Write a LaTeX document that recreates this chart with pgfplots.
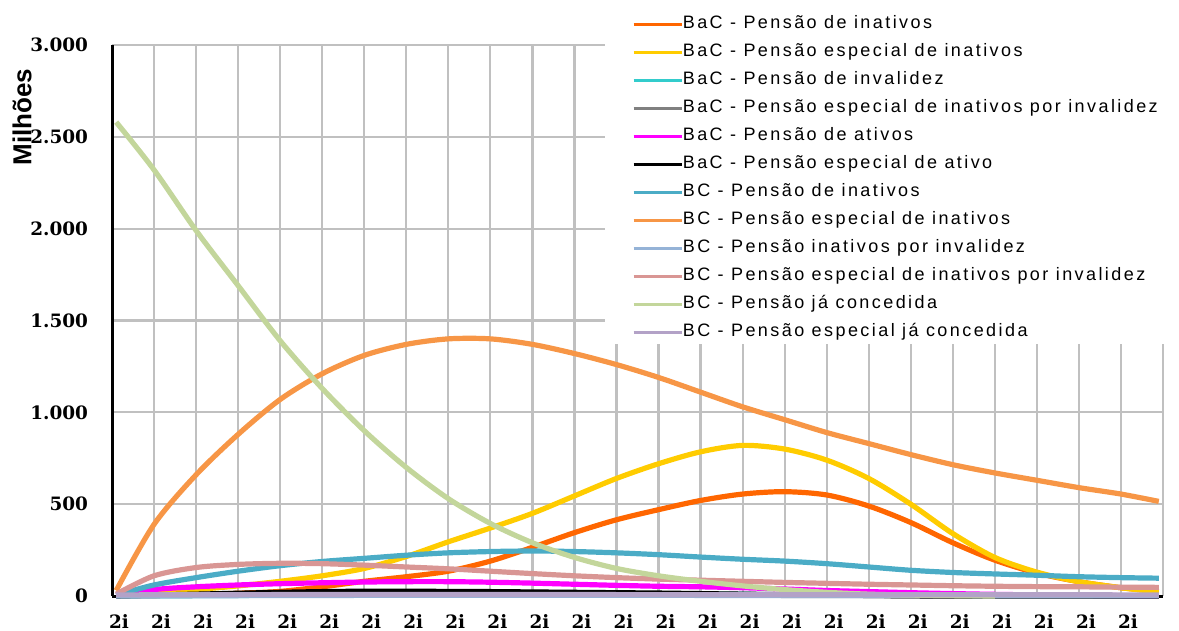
\documentclass[border=0pt]{standalone}
\usepackage{fontspec}
\setmainfont{Liberation Sans}
\newfontfamily\serifb{DejaVu Serif}
\newfontfamily\legfont[LetterSpace=13.5]{Liberation Sans}
\usepackage{pgfplots}
\pgfplotsset{compat=1.18}
\definecolor{cbacinat}{RGB}{255,102,0}
\definecolor{cbacesp}{RGB}{255,204,0}
\definecolor{cbacinv}{RGB}{51,204,204}
\definecolor{cbacespinv}{RGB}{128,128,128}
\definecolor{cbacat}{RGB}{255,0,255}
\definecolor{cbacespat}{RGB}{0,0,0}
\definecolor{cbcinat}{RGB}{75,172,198}
\definecolor{cbcesp}{RGB}{247,150,70}
\definecolor{cbcinv}{RGB}{149,179,215}
\definecolor{cbcespinv}{RGB}{217,150,148}
\definecolor{cbcconc}{RGB}{195,214,155}
\definecolor{cbcespconc}{RGB}{179,162,199}
\definecolor{cgrid}{RGB}{192,192,192}

\begin{document}
\begin{tikzpicture}
\begin{axis}[
    scale only axis,
    width=525.5bp, height=275.5bp,
    xmin=0, xmax=25, ymin=0, ymax=3000,
    axis lines=left,
    axis line style={-, line width=1.5bp, black},
    xtick={0,...,25},
    xticklabels={2i,2i,2i,2i,2i,2i,2i,2i,2i,2i,2i,2i,2i,2i,2i,2i,2i,2i,2i,2i,2i,2i,2i,2i,2i,},
    ytick={0,500,...,3000},
    major tick length=0pt,
    grid=major,
    major grid style={draw=cgrid, line width=1.1bp},
    /pgf/number format/.cd, 1000 sep={.}, assume math mode=true,
    /pgfplots/.cd,
    ticklabel style={font=\serifb\bfseries\fontsize{9.2bp}{11bp}\selectfont},
    yticklabel style={anchor=east, xshift=-8.5bp},
    xticklabel style={anchor=north, xshift=3.5bp, yshift=-5.5bp},
    clip=false,
    legend cell align=left,
    legend style={at={(rel axis cs:0.4948,1.0534)}, anchor=north west, draw=none, fill=none,
        inner sep=0pt, row sep=5.5bp,
        font=\legfont\fontsize{9bp}{11bp}\selectfont,
        nodes={inner sep=0pt, text height=6.5bp, text depth=2bp},
        /tikz/every even column/.append style={column sep=3bp}},
    legend image code/.code={\draw[#1, line width=1.2bp] (0bp,0bp) -- (24bp,0bp);},
    every axis plot/.append style={line width=2.6bp, smooth},
]
\fill[white] (axis cs:11.73,1372) rectangle (axis cs:25.5,3300);
\node[rotate=90, font=\bfseries\fontsize{13bp}{15bp}\selectfont] at (rel axis cs:-0.0856,0.869) {Milhões};

% BaC - Pensão de inativos
\addplot[cbacinat] coordinates {(0.1,0) (1,3) (2,8) (3,15) (4,25) (5,50) (6,80) (7,105) (8,135) (9,190) (10,265) (11,345) (12,415) (13,470) (14,520) (15,555) (16,568) (17,550) (18,490) (19,400) (20,290) (21,195) (22,125) (23,78) (24,45) (24.9,25)};
% BaC - Pensão especial de inativos
\addplot[cbacesp] coordinates {(0.1,0) (1,15) (2,35) (3,55) (4,80) (5,110) (6,150) (7,215) (8,295) (9,370) (10,450) (11,545) (12,640) (13,720) (14,785) (15,820) (16,800) (17,740) (18,640) (19,500) (20,340) (21,210) (22,130) (23,78) (24,45) (24.9,22)};
% BaC - Pensão de invalidez
\addplot[cbacinv] coordinates {(0.1,0) (2,2) (5,5) (8,8) (11,10) (14,10) (17,7) (20,4) (24.9,1)};
% BaC - Pensão especial de inativos por invalidez
\addplot[cbacespinv] coordinates {(0.1,0) (3,5) (6,8) (9,8) (12,6) (15,4) (18,2) (24.9,1)};
% BaC - Pensão de ativos
\addplot[cbacat] coordinates {(0.1,2) (1,35) (2,50) (3,60) (4,67) (5,72) (6,76) (7,78) (8,78) (9,75) (10,70) (11,64) (12,58) (13,53) (14,50) (15,45) (16,38) (17,30) (18,24) (19,18) (20,13) (21,9) (22,6) (23,4) (24,2) (24.9,1)};
% BaC - Pensão especial de ativo
\addplot[cbacespat] coordinates {(0.1,0) (1,5) (2,10) (3,15) (4,20) (5,24) (6,26) (7,26) (8,25) (9,24) (10,22) (11,20) (12,18) (13,16) (14,13) (15,10) (16,7) (17,5) (18,3) (19,1) (20,0) (24.9,0)};
% BC - Pensão de inativos
\addplot[cbcinat] coordinates {(0.1,5) (1,60) (2,100) (3,135) (4,165) (5,188) (6,205) (7,222) (8,235) (9,242) (10,245) (11,242) (12,235) (13,225) (14,212) (15,200) (16,190) (17,176) (18,158) (19,140) (20,128) (21,120) (22,113) (23,105) (24,100) (24.9,97)};
% BC - Pensão especial de inativos
\addplot[cbcesp] coordinates {(0.1,30) (1,390) (2,660) (3,880) (4,1070) (5,1210) (6,1310) (7,1370) (8,1400) (9,1400) (10,1370) (11,1320) (12,1260) (13,1190) (14,1110) (15,1030) (16,960) (17,890) (18,830) (19,770) (20,715) (21,670) (22,630) (23,590) (24,555) (24.9,515)};
% BC - Pensão inativos por invalidez
\addplot[cbcinv] coordinates {(0.1,0) (5,3) (10,4) (15,3) (20,2) (24.9,1)};
% BC - Pensão especial de inativos por invalidez
\addplot[cbcespinv] coordinates {(0.1,10) (1,110) (2,155) (3,172) (4,178) (5,176) (6,168) (7,158) (8,148) (9,135) (10,122) (11,110) (12,100) (13,92) (14,86) (15,80) (16,74) (17,69) (18,64) (19,60) (20,56) (21,53) (22,51) (23,50) (24,48) (24.9,47)};
% BC - Pensão já concedida
\addplot[cbcconc] coordinates {(0.1,2580) (1,2320) (2,1990) (3,1690) (4,1390) (5,1130) (6,900) (7,700) (8,530) (9,395) (10,290) (11,210) (12,150) (13,110) (14,80) (15,55) (16,35) (17,20) (18,10) (19,5) (20,2) (21,0)};
% BC - Pensão especial já concedida
\addplot[cbcespconc] coordinates {(0.1,6) (5,8) (10,8) (15,7) (20,7) (24.9,6)};

\legend{BaC - Pensão de inativos,BaC - Pensão especial de inativos,BaC - Pensão de invalidez,BaC - Pensão especial de inativos por invalidez,BaC - Pensão de ativos,BaC - Pensão especial de ativo,BC - Pensão de inativos,BC - Pensão especial de inativos,BC - Pensão inativos por invalidez,BC - Pensão especial de inativos por invalidez,BC - Pensão já concedida,BC - Pensão especial já concedida}
\end{axis}
\pgfresetboundingbox
\path[use as bounding box] ([shift={(-56bp,-17.5bp)}]current axis.south west) rectangle ([shift={(533.5bp,298bp)}]current axis.south west);
\end{tikzpicture}
\end{document}
